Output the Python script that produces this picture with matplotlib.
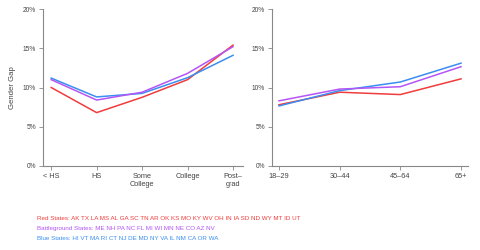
import matplotlib
matplotlib.use("Agg")
import matplotlib.pyplot as plt

plt.rcParams['font.family'] = ['Liberation Sans', 'DejaVu Sans']

edu_labels = ['< HS', 'HS', 'Some\nCollege', 'College', 'Post\u2013\ngrad']
age_labels = ['18\u201329', '30\u201344', '45\u201364', '65+']

# gender gap (%) by state group
red_edu = [10.0, 6.8, 8.75, 11.0, 15.4]
purple_edu = [11.0, 8.4, 9.4, 11.8, 15.2]
blue_edu = [11.2, 8.8, 9.25, 11.25, 14.1]

red_age = [7.8, 9.4, 9.1, 11.1]
purple_age = [8.3, 9.8, 10.1, 12.65]
blue_age = [7.65, 9.6, 10.7, 13.1]

red_states = "AK TX LA MS AL GA SC TN AR OK KS MO KY WV OH IN IA SD ND WY MT ID UT"
battle_states = "ME NH PA NC FL MI WI MN NE CO AZ NV"
blue_states = "HI VT MA RI CT NJ DE MD NY VA IL NM CA OR WA"

c_red = '#f03c3c'
c_purple = '#b455f5'
c_blue = '#3a8ef0'
spine_c = '#888888'
txt_c = '#444444'
fs = 5.3

fig = plt.figure(figsize=(4.8, 2.5), dpi=100)
ax1 = fig.add_axes([43/480, 1-166/250, 200/480, 157/250])
ax2 = fig.add_axes([272/480, 1-166/250, 196/480, 157/250])

def style(ax, labels, xlim):
	x = range(len(labels))
	ax.set_xlim(*xlim)
	ax.set_ylim(0, 20)
	ax.set_xticks(list(x))
	ax.set_xticklabels(labels, fontsize=fs, color=txt_c, linespacing=1.3)
	ax.set_yticks([0, 5, 10, 15, 20])
	ax.set_yticklabels(['0%', '5%', '10%', '15%', '20%'], fontsize=fs - 0.5, color=txt_c)
	for s in ['top', 'right']:
		ax.spines[s].set_visible(False)
	for s in ['left', 'bottom']:
		ax.spines[s].set_color(spine_c)
		ax.spines[s].set_linewidth(0.8)
	ax.tick_params(length=3, width=0.6, color=spine_c, pad=2)

for ax, xs, r, p, b in [(ax1, edu_labels, red_edu, purple_edu, blue_edu),
                        (ax2, age_labels, red_age, purple_age, blue_age)]:
	x = list(range(len(xs)))
	ax.plot(x, r, color=c_red, lw=1.1)
	ax.plot(x, b, color=c_blue, lw=1.1)
	ax.plot(x, p, color=c_purple, lw=1.1)

style(ax1, edu_labels, (-0.18, 4.22))
style(ax2, age_labels, (-0.115, 3.115))
ax1.set_ylabel('Gender Gap', fontsize=fs + 0.3, color=txt_c, labelpad=5)

fig.text(37/480, 1-218/250, 'Red States: ' + red_states, color=c_red, fontsize=4.5, va='center')
fig.text(37/480, 1-228.5/250, 'Battleground States: ' + battle_states, color=c_purple, fontsize=4.5, va='center')
fig.text(37/480, 1-239/250, 'Blue States: ' + blue_states, color=c_blue, fontsize=4.5, va='center')

fig.savefig('out.png', dpi=100)
